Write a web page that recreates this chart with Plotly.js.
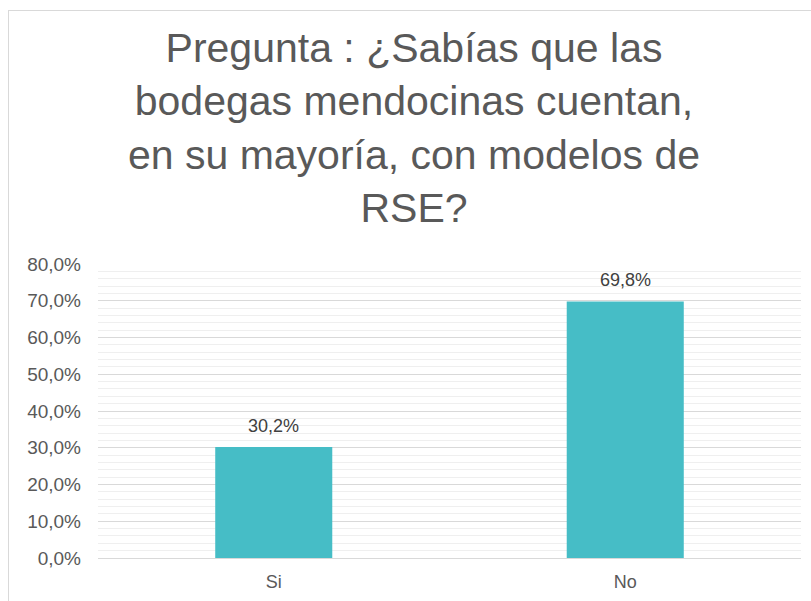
<!DOCTYPE html>
<html>
<head>
<meta charset="utf-8">
<script src="https://cdn.plot.ly/plotly-3.0.1.min.js"></script>
<style>
html,body{margin:0;padding:0;background:#fff;}
#wrap{position:relative;width:811px;height:601px;overflow:hidden;}
#chart{position:absolute;left:0;top:0;width:811px;height:601px;}
#frame{position:absolute;left:8px;top:10px;width:840px;height:640px;border:1px solid #d9d9d9;pointer-events:none;}
</style>
</head>
<body>
<div id="wrap"><div id="chart"></div><div id="frame"></div></div>
<script>
const categories = ["Si", "No"];
const values = [0.302, 0.698];
const titleText = "Pregunta : ¿Sabías que las<br>bodegas mendocinas cuentan,<br>en su mayoría, con modelos de<br>RSE?";

const fontFamily = '"Liberation Sans", Arial, sans-serif';
const textColor = '#595959';

const fmt = v => (v * 100).toFixed(1).replace('.', ',') + '%';

const trace = {
  type: 'bar',
  x: categories,
  y: values,
  marker: {color: '#46bdc6'},
  hoverinfo: 'none'
};

const annotations = categories.map((c, i) => ({
  x: c, y: values[i], xref: 'x', yref: 'y',
  text: fmt(values[i]), showarrow: false,
  yanchor: 'bottom', yshift: 9,
  font: {family: fontFamily, size: 18, color: '#404040'}
}));

const layout = {
  width: 811, height: 601,
  paper_bgcolor: 'rgba(0,0,0,0)', plot_bgcolor: 'rgba(0,0,0,0)',
  separators: ',.',
  margin: {l: 98, r: 10, t: 264, b: 43, pad: 0},
  bargap: 0.667,
  showlegend: false,
  font: {family: fontFamily, color: textColor},
  title: {
    text: titleText,
    x: 414 / 811, xref: 'container', xanchor: 'center',
    y: 1 - 62 / 601, yref: 'container', yanchor: 'top',
    font: {family: fontFamily, size: 41, color: textColor}
  },
  xaxis: {
    type: 'category',
    showgrid: false, zeroline: false, showline: false,
    ticks: '',
    ticklabelstandoff: 11,
    tickfont: {family: fontFamily, size: 18, color: textColor}
  },
  yaxis: {
    range: [0, 0.8],
    dtick: 0.1,
    tickformat: '.1%',
    showgrid: true, gridcolor: '#d9d9d9', gridwidth: 1,
    zeroline: true, zerolinecolor: '#d9d9d9', zerolinewidth: 1,
    showline: false, ticks: '',
    ticklabelstandoff: 16,
    tickfont: {family: fontFamily, size: 19, color: textColor},
    minor: {dtick: 0.02, showgrid: true, gridcolor: '#efefef', gridwidth: 1, ticks: ''}
  },
  annotations: annotations
};

Plotly.newPlot('chart', [trace], layout, {staticPlot: true, displayModeBar: false});
</script>
</body>
</html>
